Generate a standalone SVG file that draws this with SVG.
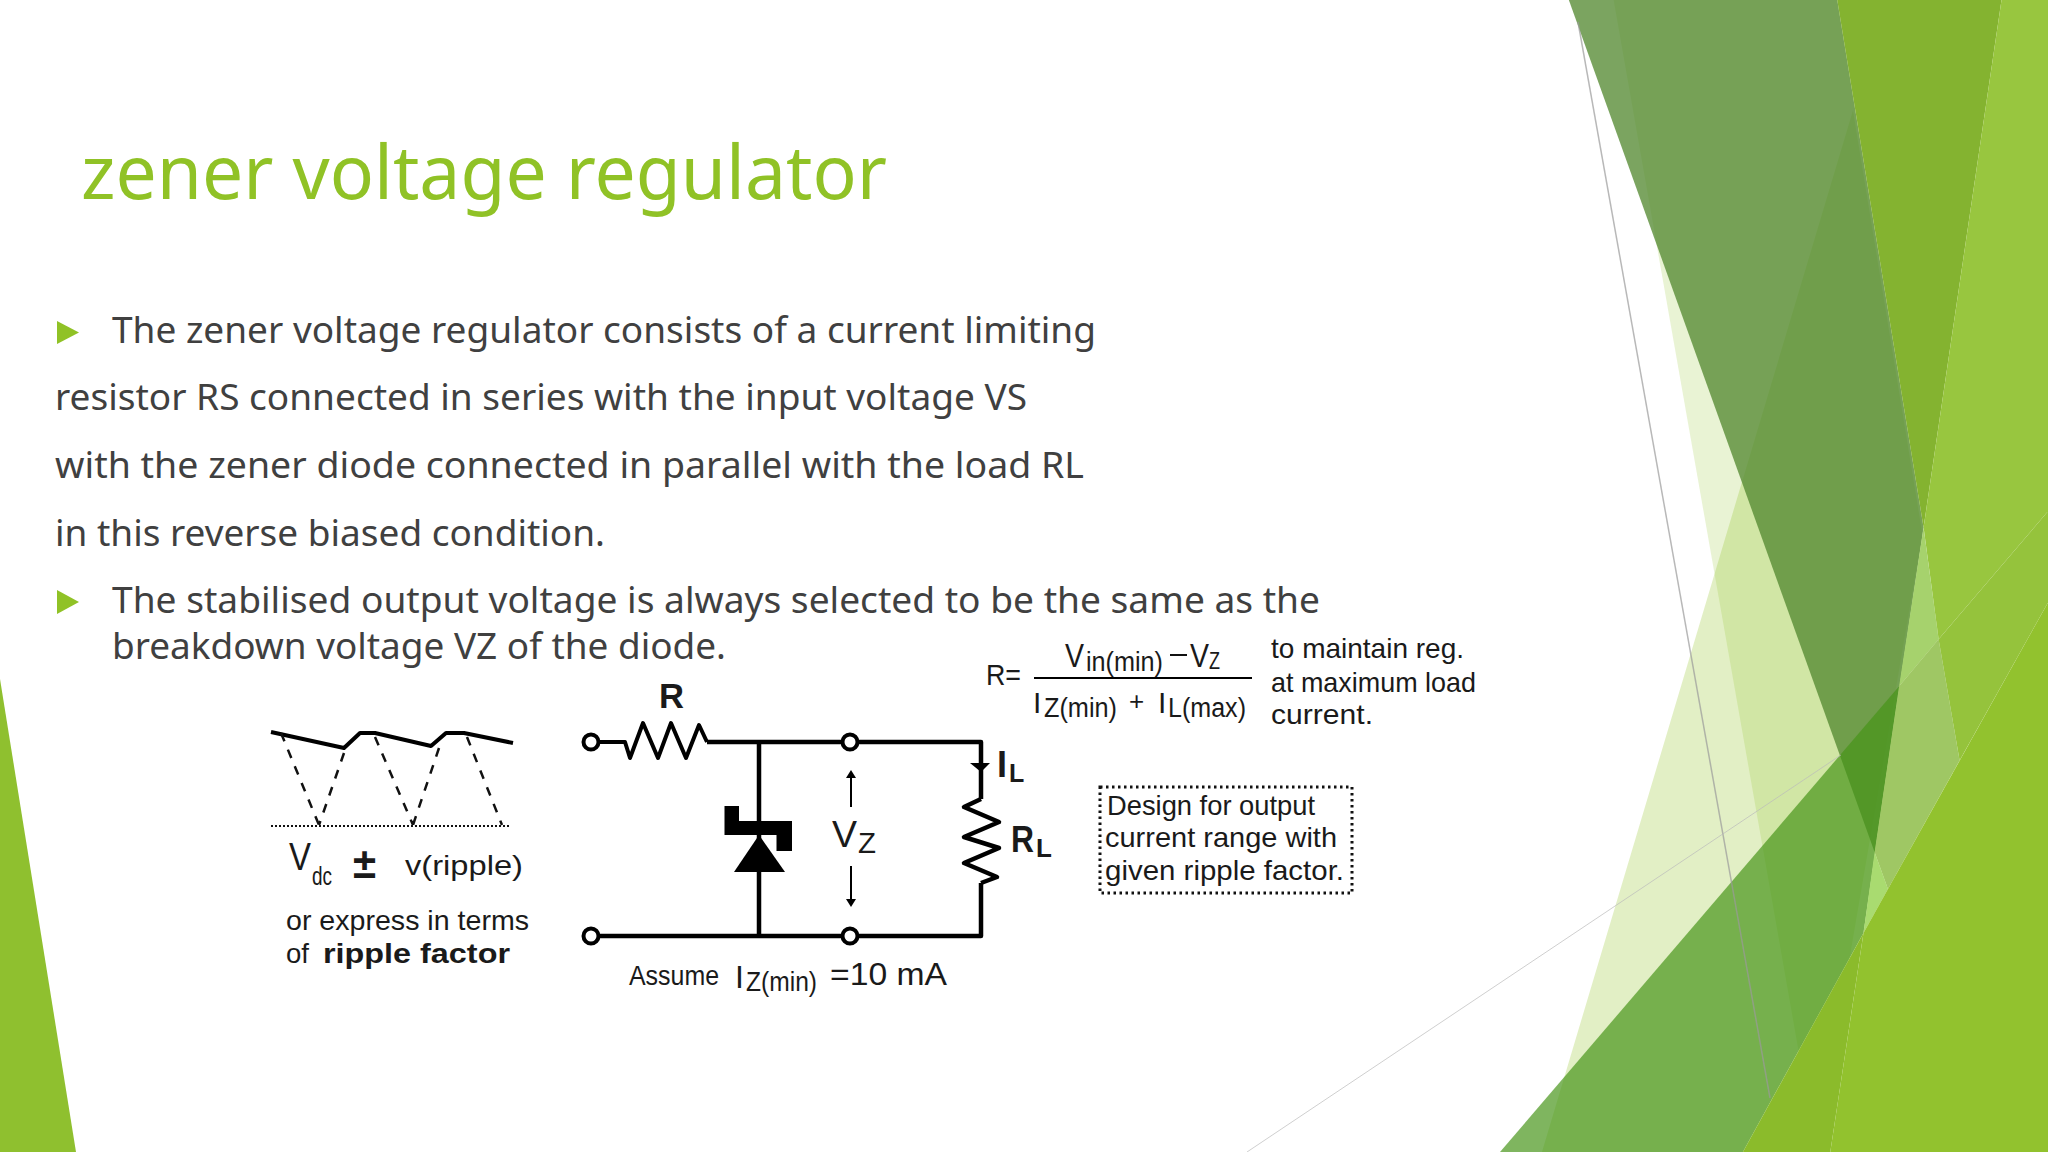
<svg xmlns="http://www.w3.org/2000/svg" width="2048" height="1152" viewBox="0 0 2048 1152">
<style>
.t{font-family:"Noto Sans","Open Sans",sans-serif;font-size:37px;fill:#404040}
.p{font-family:"Liberation Sans",Arial,sans-serif;fill:#1a1a1a}
.w{fill:none;stroke:#000;stroke-width:4.5;stroke-linejoin:round}
.n{fill:#fff;stroke:#000;stroke-width:4}
.d{fill:none;stroke:#111;stroke-width:2.5;stroke-dasharray:9 9}
.b{fill:#90c226}
</style>
<rect width="2048" height="1152" fill="#fff"/>
<g id="background">
<polygon points="0,679 76,1152 0,1152" fill="#8fc02f"/>
<g transform="translate(1500,0) scale(.34949,.73469)">
<polygon points="325,0 1212,0 1212,718 905,1568 325,0" fill="#90c226" opacity=".2"/>
<polygon points="1010,150 1315,1035 1110,1210 1040,1270 695,1568 120,1568" fill="#8fc01f" opacity=".26"/>
<polygon points="197,0 965,0 1212,718 1072,1160" fill="#538930" opacity=".77"/>
<polygon points="0,1568 1142,934 1040,1270 695,1568" fill="#459417" opacity=".69"/>
<polygon points="965,0 1435,0 1212,718" fill="#84b330"/>
<polygon points="1435,0 1568,0 1568,696 1255,870 1212,718" fill="#98c63f"/>
<polygon points="1255,870 1568,696 1568,820 1315,1035" fill="#95c33c"/>
<polygon points="1212,718 1255,870 1142,934" fill="#a6d26d"/>
<polygon points="1142,934 1255,870 1315,1035 1110,1210 1072,1160" fill="#9fc764"/>
<polygon points="1072,1160 1110,1210 1040,1270" fill="#a9db70"/>
<polygon points="695,1568 1040,1270 945,1568" fill="#8bbb2b"/>
<polygon points="1040,1270 1110,1210 1568,820 1568,1568 945,1568" fill="#92c22e"/>
</g>
<line x1="1578" y1="22" x2="1770" y2="1098" stroke="#9a9a9a" stroke-opacity=".7" stroke-width="1.5"/>
<line x1="1247" y1="1152" x2="1841" y2="755" stroke="#bbb" stroke-opacity=".7" stroke-width="1"/>
</g>
<g id="title"><text x="81" y="199" font-family="'Noto Sans','Open Sans',sans-serif" font-size="74" fill="#90c226" textLength="806" lengthAdjust="spacingAndGlyphs">zener voltage regulator</text></g>
<g id="body">
<polygon class="b" points="57,321 79,332.500 57,344"/>
<polygon class="b" points="57,590 79,602 57,614"/>
<text class="t" x="112" y="343" textLength="984" lengthAdjust="spacingAndGlyphs">The zener voltage regulator consists of a current limiting</text>
<text class="t" x="55" y="410" textLength="972" lengthAdjust="spacingAndGlyphs">resistor RS connected in series with the input voltage VS</text>
<text class="t" x="55" y="478" textLength="1029" lengthAdjust="spacingAndGlyphs">with the zener diode connected in parallel with the load RL</text>
<text class="t" x="55" y="546" textLength="550" lengthAdjust="spacingAndGlyphs">in this reverse biased condition.</text>
<text class="t" x="112" y="613" textLength="1208" lengthAdjust="spacingAndGlyphs">The stabilised output voltage is always selected to be the same as the</text>
<text class="t" x="112" y="659" textLength="614" lengthAdjust="spacingAndGlyphs">breakdown voltage VZ of the diode.</text>
</g>
<g id="connectors">
<polyline class="w" points="707,742 981,742 981,799"/>
<polyline class="w" points="981,883 981,936 591,936"/>
<line class="w" x1="759" y1="742" x2="759" y2="936"/>
<polyline class="w" style="stroke-width:4" points="597,742 625,742 630,758 643,723 658,758 671,723 686,758 699,725 707,742"/>
<polyline class="w" points="981,799 964,807 999,822 964,837 999,848 964,863 997,877 981,883"/>
<polygon points="970,763 990,763 981,772" fill="#000"/>
<line x1="851" y1="775" x2="851" y2="807" stroke="#000" stroke-width="2"/>
<polygon points="851,770 846,778 856,778" fill="#000"/>
<line x1="851" y1="866" x2="851" y2="902" stroke="#000" stroke-width="2"/>
<polygon points="851,907 846,899 856,899" fill="#000"/>
</g>
<g id="nodes">
<circle class="n" cx="591" cy="742" r="7.500"/>
<circle class="n" cx="591" cy="936" r="7.500"/>
<circle class="n" cx="850" cy="742" r="7.500"/>
<circle class="n" cx="850" cy="936" r="7.500"/>
</g>
<g id="zener">
<polygon points="759,835 785,872 734,872" fill="#000"/>
<polygon points="724.500,806 739,806 739,821 792,821 792,851 776.500,851 776.500,835 724.500,835" fill="#000"/>
</g>
<g id="ripple">
<polyline class="w" style="stroke-width:4" points="271,732 344,748 360,733 375,733 431,746 446,733 464,733 513,743"/>
<path class="d" d="M281,733L319,825M344,753L319,825M375,737L413,825M439,748L413,825M467,737L502,825"/>
<line x1="271" y1="826" x2="510" y2="826" stroke="#111" stroke-width="2" stroke-dasharray="2 2"/>
<text class="p" x="289" y="870" font-size="38" textLength="22" lengthAdjust="spacingAndGlyphs">V</text>
<text class="p" x="312" y="885" font-size="25" textLength="20" lengthAdjust="spacingAndGlyphs">dc</text>
<text class="p" x="353" y="878" font-size="42" font-weight="700">±</text>
<text class="p" x="405" y="875" font-size="28" textLength="118" lengthAdjust="spacingAndGlyphs">v(ripple)</text>
<text class="p" x="286" y="930" font-size="28" textLength="243" lengthAdjust="spacingAndGlyphs">or express in terms</text>
<text class="p" x="286" y="963" font-size="28" textLength="23" lengthAdjust="spacingAndGlyphs">of</text>
<text class="p" x="323" y="963" font-size="28" font-weight="700" textLength="187" lengthAdjust="spacingAndGlyphs">ripple factor</text>
</g>
<g id="labels">
<text class="p" x="659" y="708" font-size="35" font-weight="700" textLength="25" lengthAdjust="spacingAndGlyphs">R</text>
<text class="p" x="997" y="777" font-size="36" font-weight="700">I</text>
<text class="p" x="1009" y="782" font-size="25" font-weight="700">L</text>
<text class="p" x="1011" y="852" font-size="36" font-weight="700" textLength="23" lengthAdjust="spacingAndGlyphs">R</text>
<text class="p" x="1036" y="857" font-size="26" font-weight="700">L</text>
<text class="p" x="832" y="847" font-size="36" textLength="25" lengthAdjust="spacingAndGlyphs">V</text>
<text class="p" x="858" y="853" font-size="30" textLength="18" lengthAdjust="spacingAndGlyphs">Z</text>
<text class="p" x="629" y="985" font-size="28" textLength="90" lengthAdjust="spacingAndGlyphs">Assume</text>
<text class="p" x="735" y="988" font-size="32">I</text>
<text class="p" x="746" y="991" font-size="27" textLength="71" lengthAdjust="spacingAndGlyphs">Z(min)</text>
<text class="p" x="830" y="985" font-size="32" textLength="117" lengthAdjust="spacingAndGlyphs">=10 mA</text>
</g>
<g id="formula">
<text class="p" x="986" y="685" font-size="30" textLength="35" lengthAdjust="spacingAndGlyphs">R=</text>
<text class="p" x="1065" y="667" font-size="33" textLength="19" lengthAdjust="spacingAndGlyphs">V</text>
<text class="p" x="1086" y="671" font-size="27" textLength="77" lengthAdjust="spacingAndGlyphs">in(min)</text>
<line x1="1170" y1="655" x2="1187" y2="655" stroke="#111" stroke-width="2"/>
<text class="p" x="1190" y="667" font-size="33" textLength="19" lengthAdjust="spacingAndGlyphs">V</text>
<text class="p" x="1209" y="669" font-size="24" textLength="11" lengthAdjust="spacingAndGlyphs">Z</text>
<line x1="1034" y1="678" x2="1252" y2="678" stroke="#000" stroke-width="2"/>
<text class="p" x="1033" y="713" font-size="30">I</text>
<text class="p" x="1044" y="717" font-size="27" textLength="73" lengthAdjust="spacingAndGlyphs">Z(min)</text>
<text class="p" x="1129" y="710" font-size="26">+</text>
<text class="p" x="1158" y="713" font-size="30">I</text>
<text class="p" x="1168" y="717" font-size="27" textLength="78" lengthAdjust="spacingAndGlyphs">L(max)</text>
<text class="p" x="1271" y="658" font-size="28" textLength="193" lengthAdjust="spacingAndGlyphs">to maintain reg.</text>
<text class="p" x="1271" y="692" font-size="28" textLength="205" lengthAdjust="spacingAndGlyphs">at maximum load</text>
<text class="p" x="1271" y="724" font-size="28" textLength="102" lengthAdjust="spacingAndGlyphs">current.</text>
</g>
<g id="design-note">
<rect x="1100" y="787" width="252" height="106" fill="none" stroke="#111" stroke-width="3" stroke-dasharray="2.500 3.500"/>
<text class="p" x="1107" y="815" font-size="28" textLength="208" lengthAdjust="spacingAndGlyphs">Design for output</text>
<text class="p" x="1105" y="847" font-size="28" textLength="232" lengthAdjust="spacingAndGlyphs">current range with</text>
<text class="p" x="1105" y="880" font-size="28" textLength="239" lengthAdjust="spacingAndGlyphs">given ripple factor.</text>
</g>
</svg>
